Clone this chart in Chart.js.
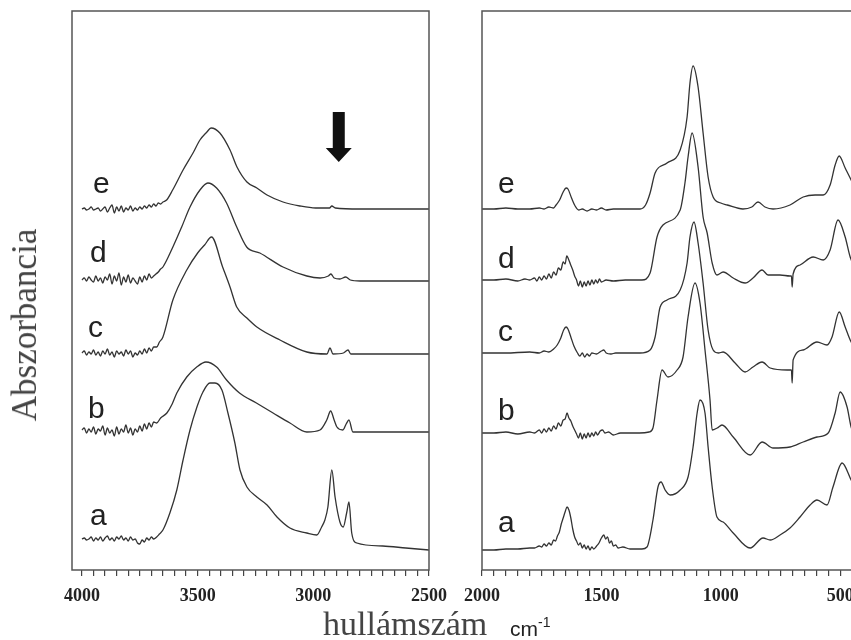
<!DOCTYPE html>
<html>
<head>
<meta charset="utf-8">
<script src="https://cdn.jsdelivr.net/npm/chart.js@4.4.1/dist/chart.umd.min.js"></script>
<style>
  html, body { margin: 0; padding: 0; background: #fff; overflow: hidden; width: 851px; height: 640px; }
  canvas { position: absolute; top: 0; }
  #left { left: 0; }
  #right { left: 440px; }
  .t { position: absolute; white-space: nowrap; color: #444; }
  #ytitle { font: 35px 'Liberation Serif', serif; line-height: 40px; left: 25px; top: 325px; transform: translate(-50%, -50%) rotate(-90deg); }
  #xtitle { font: 34px 'Liberation Serif', serif; line-height: 34px; left: 323px; top: 607px; }
  #unit { font: 21px 'Liberation Sans', Arial, sans-serif; line-height: 21px; left: 510px; top: 618px; color: #222; }
  #unit span { font-size: 14px; position: relative; top: -9px; }
</style>
</head>
<body>
<canvas id="left" width="470" height="640"></canvas>
<canvas id="right" width="460" height="640"></canvas>
<div class="t" id="ytitle">Abszorbancia</div>
<div class="t" id="xtitle">hullámszám</div>
<div class="t" id="unit">cm<span>-1</span></div>
<script>
// hullámszám (cm-1) / relatív abszorbancia (eltolással együtt) párok
const leftA = [[4000,31],[3990,32],[3980,30],[3970,31],[3960,33],[3950,29],[3940,32],[3930,30],[3920,33],[3910,29],[3900,32],[3890,34],[3880,30],[3870,32],[3860,29],[3850,33],[3840,31],[3830,34],[3820,30],[3810,32],[3800,29],[3790,33],[3780,30],[3770,31],[3760,27],[3750,26],[3740,30],[3730,28],[3720,32],[3710,30],[3700,33],[3690,31],[3677,33],[3665,36],[3650,40],[3620,57],[3590,80],[3563,110],[3533,140],[3503,163],[3477,178],[3447,187],[3425,187],[3395,180],[3369,157],[3339,127],[3317,100],[3287,83],[3244,73],[3200,65],[3157,53],[3101,42],[3028,37],[2985,35],[2964,43],[2950,50],[2937,63],[2920,100],[2906,73],[2885,48],[2871,43],[2856,57],[2846,68],[2834,37],[2812,27],[2700,24],[2600,22],[2500,20]];
const leftB = [[4000,140],[3990,142],[3980,137],[3970,141],[3960,138],[3950,143],[3940,136],[3930,141],[3920,139],[3910,144],[3900,135],[3890,142],[3880,137],[3870,140],[3860,134],[3850,143],[3840,136],[3830,141],[3820,138],[3810,145],[3800,137],[3790,142],[3780,135],[3770,141],[3760,138],[3750,144],[3740,139],[3730,146],[3720,141],[3710,147],[3700,143],[3690,148],[3677,147],[3660,152],[3633,157],[3610,166],[3590,177],[3547,193],[3504,203],[3464,208],[3418,203],[3375,190],[3319,177],[3246,167],[3174,157],[3101,147],[3028,138],[2971,140],[2942,150],[2925,159],[2910,150],[2898,143],[2872,140],[2858,146],[2846,150],[2829,138],[2700,138],[2600,138],[2500,138]];
const leftC = [[4000,217],[3990,219],[3980,215],[3970,218],[3960,216],[3950,220],[3940,215],[3930,218],[3920,214],[3910,219],[3900,216],[3890,221],[3880,215],[3870,218],[3860,213],[3850,219],[3840,216],[3830,218],[3820,214],[3810,220],[3800,216],[3790,219],[3780,213],[3770,217],[3760,215],[3750,219],[3740,216],[3730,221],[3720,217],[3710,222],[3700,219],[3690,223],[3677,223],[3665,228],[3650,233],[3607,270],[3547,300],[3500,317],[3470,325],[3440,333],[3392,303],[3360,283],[3331,263],[3287,252],[3244,243],[3144,230],[3028,218],[2941,216],[2928,222],[2915,216],[2870,217],[2850,220],[2838,216],[2700,216],[2500,216]];
const leftD = [[4000,290],[3990,292],[3980,289],[3970,293],[3960,290],[3950,288],[3940,294],[3930,289],[3920,292],[3910,287],[3900,293],[3890,290],[3880,296],[3870,286],[3860,294],[3850,289],[3840,297],[3830,285],[3820,293],[3810,288],[3800,295],[3790,287],[3780,292],[3770,289],[3760,286],[3750,293],[3740,288],[3730,294],[3720,290],[3710,296],[3700,292],[3690,294],[3680,296],[3670,298],[3660,301],[3650,303],[3607,323],[3569,343],[3533,363],[3490,380],[3456,387],[3418,382],[3375,367],[3331,343],[3288,323],[3231,317],[3131,303],[3028,294],[2971,292],[2935,294],[2924,296],[2910,292],[2885,291],[2860,293],[2840,290],[2798,289],[2500,289]];
const leftE = [[4000,361],[3990,362],[3980,360],[3970,361],[3960,363],[3950,360],[3940,361],[3930,362],[3920,359],[3910,361],[3900,363],[3890,358],[3880,362],[3870,365],[3860,357],[3850,363],[3840,359],[3830,364],[3820,358],[3810,362],[3800,360],[3790,364],[3780,359],[3770,362],[3760,360],[3750,363],[3740,361],[3730,364],[3720,362],[3710,365],[3700,363],[3690,366],[3680,364],[3670,367],[3660,366],[3650,368],[3634,370],[3608,380],[3563,400],[3520,417],[3490,430],[3460,438],[3442,442],[3404,437],[3360,420],[3330,403],[3287,388],[3244,382],[3200,375],[3131,368],[3058,364],[2990,362],[2930,362],[2920,364],[2905,362],[2800,361],[2500,361]];

const rightA = [[2000,20],[1950,20],[1900,21],[1850,21],[1800,22],[1780,22],[1760,24],[1750,23],[1740,26],[1730,24],[1720,27],[1710,25],[1700,30],[1692,29],[1684,34],[1676,38],[1668,46],[1660,52],[1652,58],[1644,63],[1636,60],[1628,52],[1620,41],[1612,33],[1604,29],[1596,25],[1588,27],[1580,22],[1572,25],[1564,21],[1556,24],[1548,20],[1540,23],[1532,21],[1520,24],[1510,27],[1500,32],[1490,35],[1482,31],[1474,33],[1466,27],[1458,29],[1450,24],[1440,25],[1430,22],[1410,23],[1380,21],[1330,21],[1309,23],[1284,50],[1263,83],[1250,88],[1233,80],[1212,75],[1170,80],[1137,93],[1116,123],[1099,157],[1087,170],[1066,157],[1053,123],[1036,83],[1016,53],[990,48],[948,37],[877,22],[823,32],[793,30],[752,35],[710,42],[668,53],[626,65],[597,70],[555,65],[530,83],[492,107],[454,90],[420,75],[380,70]];
const rightB = [[2000,137],[1950,137],[1900,138],[1850,136],[1800,138],[1780,137],[1760,140],[1750,137],[1740,141],[1730,138],[1720,142],[1710,139],[1700,144],[1690,141],[1680,147],[1670,144],[1660,150],[1652,151],[1644,157],[1636,152],[1628,149],[1620,144],[1612,140],[1604,136],[1596,132],[1588,137],[1580,131],[1572,136],[1564,132],[1556,137],[1548,133],[1540,137],[1532,134],[1524,138],[1516,135],[1505,139],[1495,140],[1485,137],[1470,138],[1450,135],[1420,137],[1340,137],[1300,138],[1284,142],[1267,170],[1246,200],[1221,193],[1183,200],[1158,213],[1137,253],[1108,287],[1087,267],[1066,220],[1045,170],[1036,140],[1015,142],[995,145],[948,133],[877,115],[827,128],[781,122],[710,123],[655,128],[597,133],[550,137],[521,157],[500,178],[471,163],[454,143],[420,125],[380,120]];
const rightC = [[2000,217],[1900,217],[1800,218],[1760,217],[1740,219],[1720,218],[1700,221],[1685,225],[1670,232],[1658,240],[1648,243],[1640,241],[1628,233],[1615,224],[1600,217],[1590,214],[1580,217],[1570,213],[1560,216],[1550,214],[1540,217],[1520,216],[1500,219],[1490,220],[1480,217],[1460,216],[1440,217],[1400,217],[1338,217],[1296,220],[1275,233],[1254,263],[1225,270],[1170,280],[1141,307],[1129,333],[1112,348],[1095,327],[1074,287],[1053,240],[1032,220],[1010,217],[990,218],[940,207],[898,198],[865,203],[827,208],[793,202],[722,200],[704,200],[701,187],[697,210],[655,220],[597,228],[555,225],[534,233],[504,258],[479,243],[458,230],[420,215],[380,210]];
const rightD = [[2000,290],[1950,290],[1900,291],[1850,289],[1820,291],[1800,290],[1780,292],[1770,289],[1760,293],[1750,290],[1740,294],[1730,291],[1720,296],[1710,292],[1700,298],[1690,295],[1680,302],[1670,300],[1660,308],[1652,306],[1645,314],[1638,311],[1630,306],[1620,300],[1612,294],[1604,290],[1596,284],[1588,289],[1580,283],[1572,288],[1564,284],[1556,289],[1548,285],[1540,290],[1532,286],[1524,290],[1516,287],[1508,291],[1500,288],[1480,290],[1450,289],[1400,290],[1330,290],[1296,297],[1267,333],[1242,345],[1170,360],[1150,387],[1137,413],[1120,437],[1095,403],[1074,353],[1057,337],[1036,307],[1016,295],[990,298],[948,292],[898,287],[865,292],[827,300],[802,295],[752,295],[710,294],[704,294],[701,283],[697,296],[668,305],[613,313],[571,310],[542,320],[509,350],[479,333],[458,313],[420,295],[380,290]];
const rightE = [[2000,361],[1950,361],[1900,362],[1850,361],[1800,361],[1760,362],[1740,361],[1720,363],[1700,362],[1690,365],[1675,370],[1660,378],[1648,382],[1640,381],[1625,372],[1610,364],[1595,360],[1580,361],[1560,359],[1540,361],[1520,360],[1500,362],[1480,360],[1450,361],[1400,361],[1338,361],[1315,365],[1296,377],[1275,397],[1225,407],[1170,420],[1141,453],[1129,487],[1116,504],[1095,483],[1074,437],[1053,393],[1032,373],[1000,367],[973,365],[907,361],[870,363],[844,368],[815,363],[781,361],[710,365],[655,373],[605,375],[571,375],[542,385],[521,405],[504,414],[479,402],[454,390],[420,372],[380,368]];

const seriesNames = ['a', 'b', 'c', 'd', 'e'];
const leftTicks = [];
for (let v = 2500; v <= 4000; v += 50) leftTicks.push(v);
const rightTicks = [];
for (let v = 400; v <= 2000; v += 50) rightTicks.push(v);

// betűk helye (hullámszám, magasság)
const leftLabelPos = [[3965,45],[3974,152],[3974,233],[3965,308],[3952,377]];
const rightLabelPos = [[1933,38],[1933,150],[1933,229],[1933,302],[1933,377]];

const panelDecor = {
  id: 'panelDecor',
  afterDatasetsDraw(chart, args, opts) {
    const ctx = chart.ctx;
    const a = chart.chartArea;
    const x = chart.scales.x, y = chart.scales.y;
    ctx.save();
    ctx.strokeStyle = '#555';
    ctx.lineWidth = 1.5;
    ctx.strokeRect(a.left, a.top, a.right - a.left, a.bottom - a.top);
    ctx.fillStyle = '#222';
    ctx.font = '30px "Liberation Sans", Arial, sans-serif';
    ctx.textBaseline = 'alphabetic';
    opts.labels.forEach((p, i) => {
      ctx.fillText(seriesNames[i], x.getPixelForValue(p[0]), y.getPixelForValue(p[1]));
    });
    if (opts.arrow) {
      const ar = opts.arrow;
      const cx = x.getPixelForValue(ar.wn);
      const top = y.getPixelForValue(ar.top), neck = y.getPixelForValue(ar.neck), tip = y.getPixelForValue(ar.tip);
      ctx.fillStyle = '#111';
      ctx.beginPath();
      ctx.moveTo(cx - 6, top);
      ctx.lineTo(cx + 6, top);
      ctx.lineTo(cx + 6, neck);
      ctx.lineTo(cx + 13, neck);
      ctx.lineTo(cx, tip);
      ctx.lineTo(cx - 13, neck);
      ctx.lineTo(cx - 6, neck);
      ctx.closePath();
      ctx.fill();
    }
    ctx.restore();
  }
};

function makePanel(id, series, xmin, xmax, ticks, pad, labels, arrow) {
  return new Chart(document.getElementById(id), {
    type: 'line',
    data: {
      datasets: series.map((s, i) => ({
        label: seriesNames[i],
        data: s.map(p => ({ x: p[0], y: p[1] })),
        borderColor: '#333',
        borderWidth: 1.3,
        pointRadius: 0,
        cubicInterpolationMode: 'monotone',
        fill: false
      }))
    },
    options: {
      responsive: false,
      animation: false,
      devicePixelRatio: 1,
      layout: { padding: pad },
      plugins: {
        legend: { display: false },
        tooltip: { enabled: false },
        panelDecor: { labels: labels, arrow: arrow }
      },
      scales: {
        x: {
          type: 'linear',
          reverse: true,
          min: xmin,
          max: xmax,
          afterBuildTicks: ax => { ax.ticks = ticks.map(v => ({ value: v })); },
          afterFit: ax => { ax.height = 70; ax.paddingLeft = 0; ax.paddingRight = 0; },
          grid: { drawOnChartArea: false, drawTicks: true, tickLength: 6, color: '#444', lineWidth: 1.2 },
          border: { display: false },
          ticks: {
            autoSkip: false,
            maxRotation: 0,
            padding: 10,
            color: '#222',
            font: { family: 'Liberation Serif', weight: 'bold', size: 18 },
            callback: v => (v % 500 === 0 ? String(v) : '')
          }
        },
        y: { display: false, min: 0, max: 559 }
      }
    },
    plugins: [panelDecor]
  });
}

makePanel('left', [leftA, leftB, leftC, leftD, leftE], 2500, 4043, leftTicks,
  { left: 72, top: 11, right: 41, bottom: 0 }, leftLabelPos, { wn: 2890, top: 458, neck: 422, tip: 408 });
makePanel('right', [rightA, rightB, rightC, rightD, rightE], 375, 2000, rightTicks,
  { left: 42, top: 11, right: 30, bottom: 0 }, rightLabelPos, null);
</script>
</body>
</html>
